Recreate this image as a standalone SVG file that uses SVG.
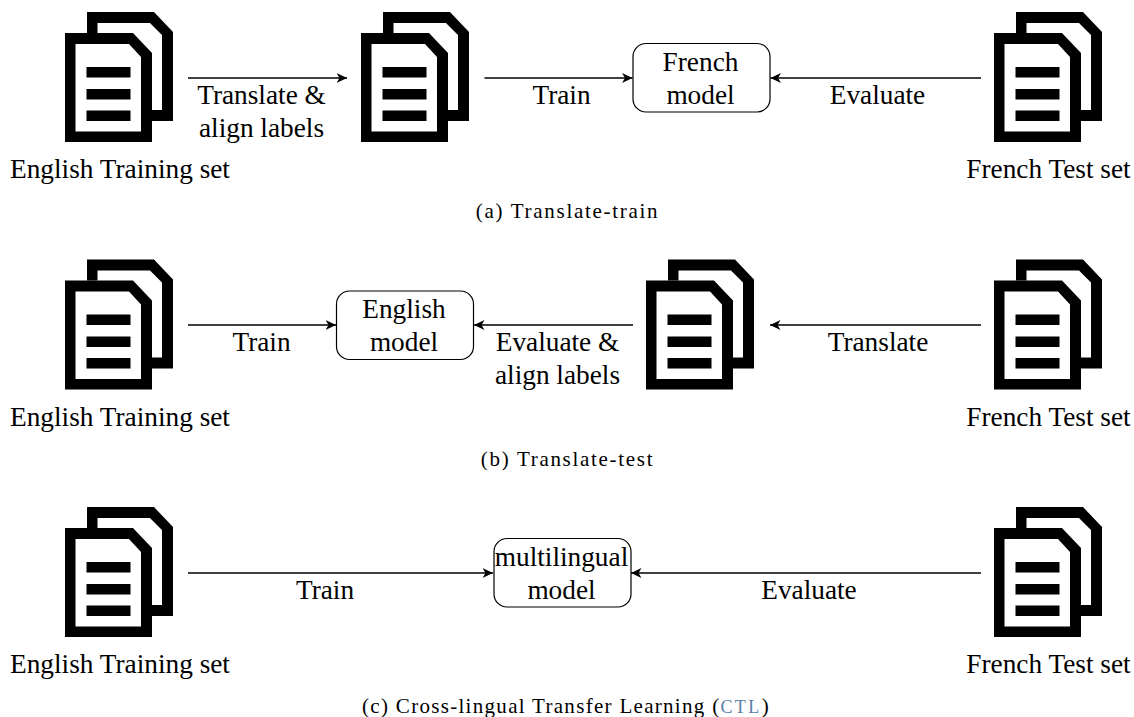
<svg xmlns="http://www.w3.org/2000/svg" width="1134" height="717" viewBox="0 0 1134 717">
<style>
text{font-family:"Liberation Serif","Times New Roman",serif;fill:#000;text-anchor:middle}
.l{font-size:27.3px}
.c{font-size:21px;letter-spacing:1.7px}
.s{font-size:18px;letter-spacing:2.4px;fill:#5a7ea8}
.e{fill:none;stroke:#000;stroke-width:1.3;marker-end:url(#a)}
.b{fill:#fff;stroke:#000;stroke-width:1.2}
</style>
<defs>
<marker id="a" markerUnits="userSpaceOnUse" markerWidth="12" markerHeight="12" refX="10.500" refY="6" orient="auto"><path d="M0 1 L10.500 6 L0 11 L3 6Z" fill="#000"/></marker>
<g id="d">
<path fill-rule="evenodd" d="M22 21V0H89L108 20V109H86V98H97V23L85 11H32.500V21Z"/>
<path fill-rule="evenodd" d="M0 21H68L87 41V130H0ZM10.500 32V119.500H76V45L64 32Z"/>
<path d="M21.500 55H65.500V65.500H21.500ZM21.500 77H65.500V87.500H21.500ZM21.500 98.500H65.500V109H21.500Z"/>
</g>
</defs>
<g id="connectors">
<path class="e" d="M188 78H347"/>
<path class="e" d="M484.500 78H632.500"/>
<path class="e" d="M981 78H770.500"/>
<path class="e" d="M188 325H336"/>
<path class="e" d="M633 325H474"/>
<path class="e" d="M981 325H770"/>
<path class="e" d="M188 573H493"/>
<path class="e" d="M981 573H631"/>
</g>
<g id="a-train"><use href="#d" x="65" y="12"/><text class="l" x="120" y="178">English Training set</text></g>
<g id="a-mid"><use href="#d" x="361" y="12"/></g>
<g id="a-model"><rect class="b" x="633" y="43.500" width="137" height="68.500" rx="13"/><text class="l" x="700.500" y="71">French</text><text class="l" x="700.500" y="104">model</text></g>
<g id="a-test"><use href="#d" x="994" y="12"/><text class="l" x="1048.500" y="178">French Test set</text></g>
<text class="l" x="261.500" y="104">Translate &amp;</text><text class="l" x="261.500" y="137">align labels</text>
<text class="l" x="561.500" y="104">Train</text>
<text class="l" x="877.500" y="104">Evaluate</text>
<text class="c" x="567.500" y="218">(a) Translate-train</text>

<g id="b-train"><use href="#d" x="65" y="259.500"/><text class="l" x="120" y="425.500">English Training set</text></g>
<g id="b-model"><rect class="b" x="336.500" y="291" width="137" height="68.500" rx="13"/><text class="l" x="404" y="318">English</text><text class="l" x="404" y="351">model</text></g>
<g id="b-mid"><use href="#d" x="646" y="259.500"/></g>
<g id="b-test"><use href="#d" x="994" y="259.500"/><text class="l" x="1048.500" y="425.500">French Test set</text></g>
<text class="l" x="261.500" y="351">Train</text>
<text class="l" x="557.500" y="351">Evaluate &amp;</text><text class="l" x="557.500" y="384">align labels</text>
<text class="l" x="878" y="351">Translate</text>
<text class="c" x="567.500" y="465.500">(b) Translate-test</text>

<g id="c-train"><use href="#d" x="65" y="507"/><text class="l" x="120" y="673">English Training set</text></g>
<g id="c-model"><rect class="b" x="494" y="538.500" width="137" height="68.500" rx="13"/><text class="l" x="561.500" y="565.500">multilingual</text><text class="l" x="561.500" y="598.500">model</text></g>
<g id="c-test"><use href="#d" x="994" y="507"/><text class="l" x="1048.500" y="673">French Test set</text></g>
<text class="l" x="325" y="599">Train</text>
<text class="l" x="809" y="599">Evaluate</text>
<text class="c" style="letter-spacing:1.3px" x="566" y="713">(c) Cross-lingual Transfer Learning (<tspan class="s">CTL</tspan>)</text>
</svg>
